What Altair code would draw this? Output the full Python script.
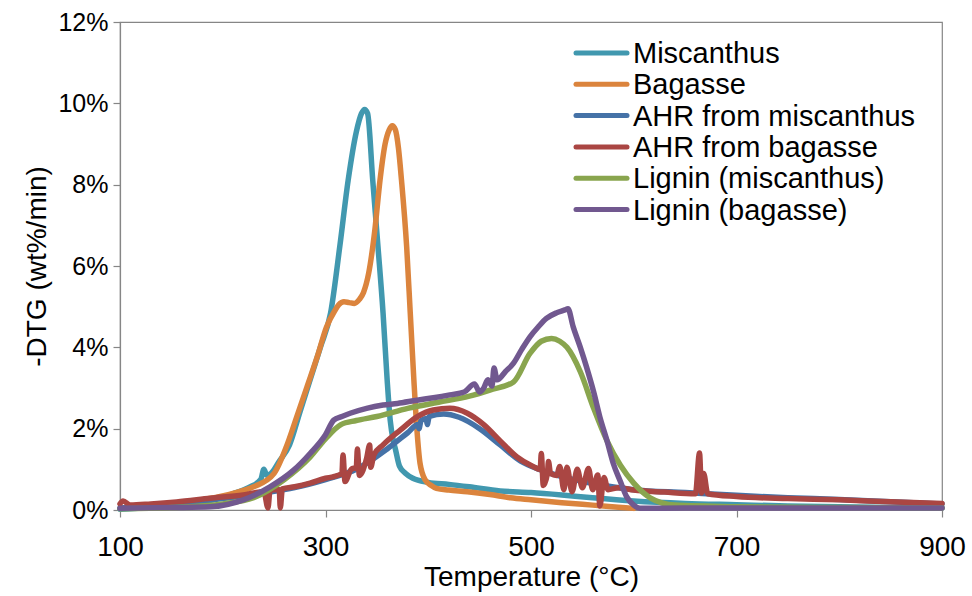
import altair as alt
import pandas as pd

names = ["Miscanthus", "Bagasse", "AHR from miscanthus", "AHR from bagasse",
         "Lignin (miscanthus)", "Lignin (bagasse)"]
colors = ["#4198AF", "#DB843D", "#4572A7", "#AA4643", "#89A54E", "#71588F"]

mis_T = [100, 130, 160, 190, 210, 225, 237, 240, 243, 247, 255, 265, 275, 285, 295, 305, 314, 322, 330, 335,
         338, 341, 346, 351, 356, 360, 363, 366, 368, 372, 378, 385, 400, 420, 440, 470, 500, 530, 560, 600,
         650, 700, 750, 800, 850, 900]
mis_V = [0.02, 0.06, 0.12, 0.25, 0.4, 0.55, 0.75, 1.0, 0.85, 0.9, 1.2, 1.6, 2.4, 3.2, 4.0, 4.85, 6.5, 8.1, 9.3, 9.75,
         9.85, 9.75, 8.1, 6.5, 4.85, 3.2, 2.2, 1.7, 1.5, 1.08, 0.9, 0.78, 0.68, 0.63, 0.57, 0.47, 0.43, 0.37, 0.3, 0.22,
         0.16, 0.13, 0.1, 0.08, 0.06, 0.05]

bag_T = [150, 180, 210, 230, 250, 262, 272, 282, 292, 301, 309, 313, 318, 323, 328, 333, 337, 342, 348, 353,
         358, 362, 365, 368, 371, 374, 379, 382.5, 386, 389, 392, 397, 403, 408, 420, 438, 460, 480, 500, 530,
         560, 585, 600]
bag_V = [0.12, 0.25, 0.41, 0.57, 0.9, 1.56, 2.29, 3.03, 3.77, 4.5, 4.9, 5.05, 5.12, 5.1, 5.08, 5.18, 5.35, 5.82, 6.88, 8.1,
         9.0, 9.35, 9.45, 9.35, 8.9, 8.1, 6.47, 4.84, 3.2, 1.97, 1.15, 0.74, 0.6, 0.53, 0.49, 0.45, 0.38, 0.3, 0.25, 0.18,
         0.12, 0.07, 0.04]

ahrm_T = [100, 150, 200, 240, 270, 300, 330, 360, 380, 390, 391, 393, 398, 399, 401, 415, 430, 450, 470, 490,
          510, 530, 560, 600, 650, 700, 750, 800, 850, 900]
ahrm_V = [0.05, 0.15, 0.28, 0.42, 0.55, 0.75, 1.0, 1.5, 1.9, 2.1, 2.0, 2.2, 2.25, 2.1, 2.3, 2.36, 2.28, 2.0, 1.6, 1.2,
          0.98, 0.82, 0.65, 0.5, 0.43, 0.36, 0.3, 0.26, 0.2, 0.15]

ahrb_T = [100, 103, 110, 130, 155, 188, 220, 240, 244, 246, 250, 255, 256, 258, 270, 285, 300, 308, 316, 317,
          319, 325, 330, 331, 333, 340, 343, 344, 347, 356, 373, 389, 405, 421, 438, 454, 470, 486, 502, 509,
          510, 512, 516, 517, 519, 525, 528, 532, 535, 540, 545, 550, 556, 560, 565, 567, 571, 575, 585, 600,
          630, 660, 664, 666, 668, 672, 700, 750, 800, 850, 900]
ahrb_V = [0.15, 0.22, 0.12, 0.15, 0.2, 0.29, 0.37, 0.45, 0.05, 0.48, 0.5, 0.5, 0.05, 0.52, 0.57, 0.66, 0.78, 0.82, 0.9, 1.35,
          0.7, 1.0, 1.05, 1.5, 0.85, 1.27, 1.6, 1.05, 1.35, 1.6, 1.97, 2.29, 2.46, 2.5, 2.38, 2.1, 1.7, 1.31, 1.07, 1.0,
          1.39, 0.6, 0.9, 1.19, 0.9, 0.85, 1.07, 0.5, 1.05, 0.45, 1.0, 0.55, 1.02, 0.5, 0.86, 0.1, 0.8, 0.5, 0.55, 0.49,
          0.44, 0.4, 1.4, 0.42, 0.9, 0.4, 0.33, 0.28, 0.25, 0.2, 0.16]

lm_T = [100, 150, 200, 230, 260, 285, 300, 315, 330, 350, 380, 410, 440, 460, 483, 499, 510, 520, 528, 535,
        548, 561, 574, 587, 600, 616, 640, 700, 800, 900]
lm_V = [0.03, 0.06, 0.15, 0.3, 0.75, 1.3, 1.75, 2.1, 2.2, 2.3, 2.5, 2.65, 2.8, 2.95, 3.15, 3.85, 4.15, 4.22, 4.15, 4.0,
        3.4, 2.5, 1.7, 1.1, 0.66, 0.3, 0.12, 0.08, 0.06, 0.05]

lb_T = [100, 150, 188, 220, 246, 269, 285, 300, 308, 316, 324, 340, 356, 370, 389, 405, 421, 435, 445, 450,
        454, 458, 462, 464, 467, 475, 483, 491, 499, 507, 515, 525, 533, 536, 541, 548, 554, 561, 567, 574,
        580, 587, 593, 600, 606, 650, 700, 750, 800, 850, 900]
lb_V = [0.04, 0.06, 0.08, 0.25, 0.57, 0.98, 1.39, 1.85, 2.21, 2.3, 2.38, 2.5, 2.58, 2.62, 2.7, 2.76, 2.83, 2.9, 3.1, 2.9,
        3.0, 3.2, 3.05, 3.49, 3.2, 3.4, 3.61, 3.95, 4.26, 4.5, 4.71, 4.85, 4.92, 4.95, 4.51, 4.0, 3.52, 2.9, 2.29, 1.7,
        1.15, 0.7, 0.33, 0.12, 0.04, 0.05, 0.05, 0.05, 0.05, 0.05, 0.05]

series_T = [mis_T, bag_T, ahrm_T, ahrb_T, lm_T, lb_T]
series_V = [mis_V, bag_V, ahrm_V, ahrb_V, lm_V, lb_V]

x_ticks = [100, 300, 500, 700, 900]
y_ticks = [0, 0.02, 0.04, 0.06, 0.08, 0.10, 0.12]

FONT = "Liberation Sans"
GRAY = "#868686"
color_scale = alt.Scale(domain=names, range=colors)

x_axis = alt.Axis(values=x_ticks, title="Temperature (°C)", grid=False, tickSize=7, labelPadding=16,
                  labelFlush=False, titlePadding=2, labelFont=FONT, titleFont=FONT, labelFontSize=28,
                  titleFontSize=28, labelColor="black", titleColor="black", titleFontWeight="normal",
                  domainColor=GRAY, tickColor=GRAY, domainWidth=1.2, tickWidth=1.2)
y_axis = alt.Axis(values=y_ticks, format=".0%", title="-DTG (wt%/min)", grid=False, tickSize=7, labelPadding=5,
                  titleX=-83, titleBaseline="middle", labelFont=FONT, titleFont=FONT, labelFontSize=25,
                  titleFontSize=28, labelColor="black", titleColor="black", titleFontWeight="normal",
                  domainColor=GRAY, tickColor=GRAY, domainWidth=1.2, tickWidth=1.2)

layers = []
for i, nm in enumerate(names):
    df = pd.DataFrame({"T": series_T[i], "v": [v / 100 for v in series_V[i]], "series": nm})
    layers.append(
        alt.Chart(df).mark_line(strokeWidth=5.5, strokeCap="round", strokeJoin="round",
                                interpolate="monotone").encode(
            x=alt.X("T:Q", scale=alt.Scale(domain=[100, 900], nice=False), axis=x_axis),
            y=alt.Y("v:Q", scale=alt.Scale(domain=[0, 0.12], nice=False), axis=y_axis),
            color=alt.Color("series:N", scale=color_scale, legend=None),
            order=alt.Order("T:Q"),
        )
    )
lines = alt.layer(*layers)

leg = pd.DataFrame({"series": names})
leg_y = alt.Y("series:N", scale=alt.Scale(type="point", domain=names, range=[31, 187.5], padding=0), axis=None)
leg_rule = alt.Chart(leg).mark_rule(strokeWidth=5, strokeCap="round").encode(
    x=alt.value(456), x2=alt.value(507), y=leg_y,
    color=alt.Color("series:N", scale=color_scale, legend=None),
)
leg_text = alt.Chart(leg).mark_text(align="left", baseline="middle", fontSize=29, font=FONT, color="black",
                                    dy=1).encode(
    x=alt.value(513), y=leg_y, text="series:N",
)
legend = alt.layer(leg_rule, leg_text)

chart = alt.layer(lines, legend).resolve_scale(y="independent").properties(
    width=822, height=488,
    autosize=alt.AutoSizeParams(type="none"),
    padding={"left": 120, "top": 22, "right": 30, "bottom": 86},
    background="white",
).configure_view(stroke=GRAY, strokeWidth=1.2)

chart.save("out.html", embed_options={"renderer": "svg", "actions": False})
